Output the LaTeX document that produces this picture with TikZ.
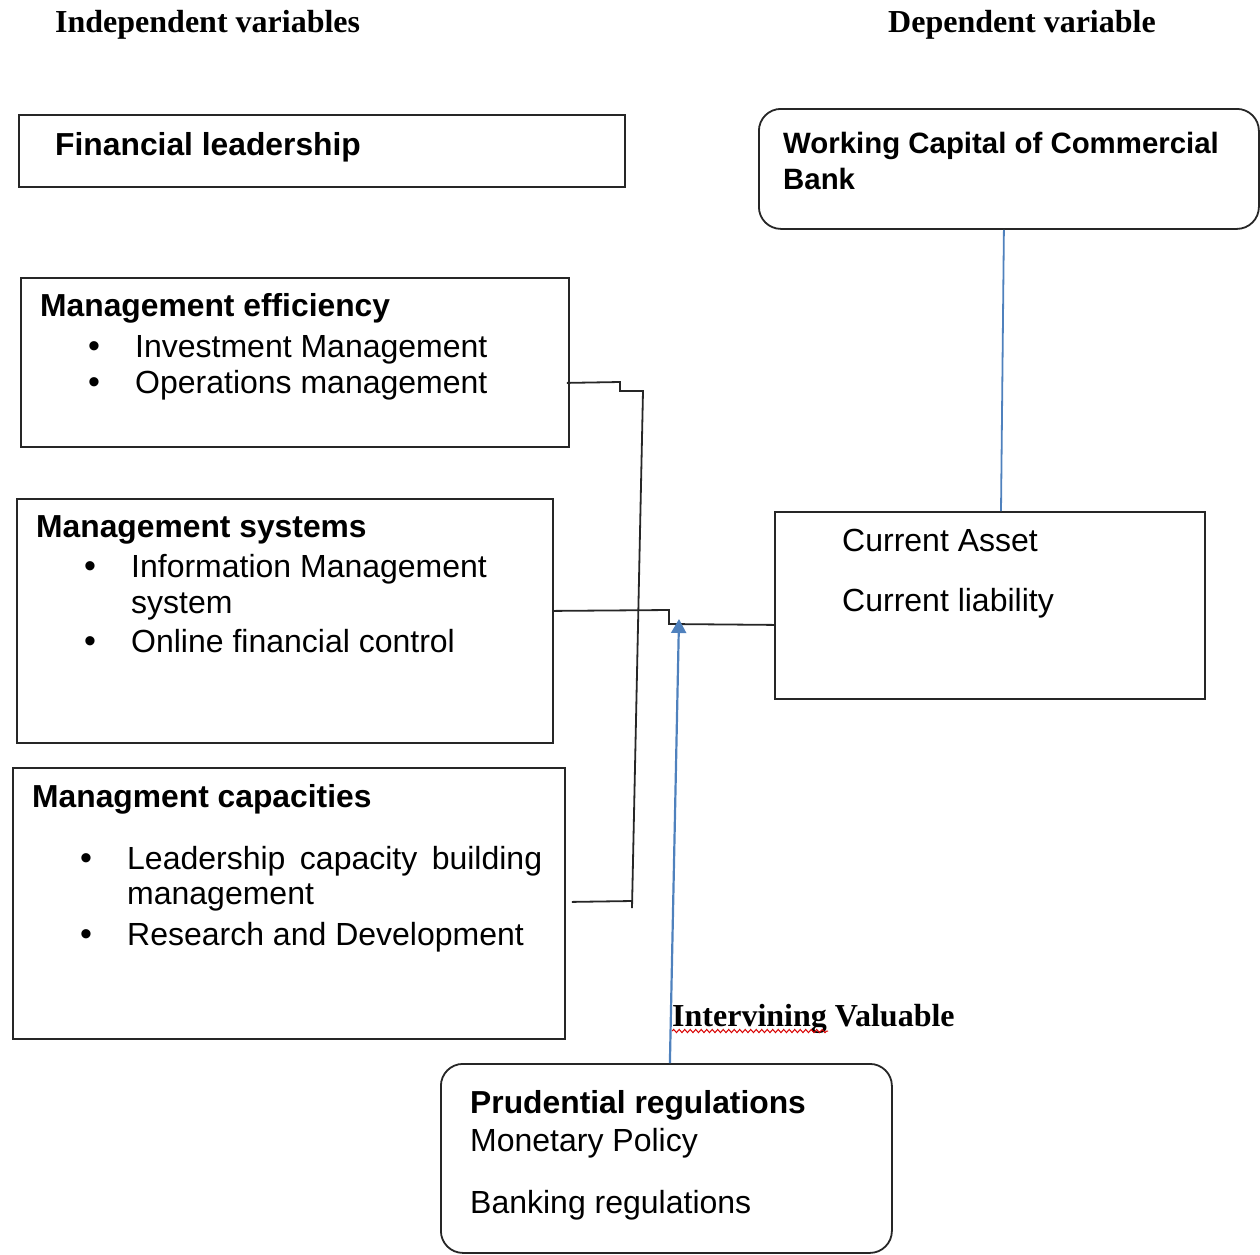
\documentclass[tikz,border=0pt]{standalone}
\usepackage{fontspec}
\setmainfont{Liberation Sans}
\newfontfamily\hdrfont{Liberation Serif}
\usetikzlibrary{arrows.meta,decorations.pathmorphing}
\definecolor{linkblue}{RGB}{79,129,189}
\begin{document}
\begin{tikzpicture}[x=1pt,y=-1pt,
 box/.style={draw=black!85,line width=1.8pt,anchor=north west,inner sep=0pt},
 rbox/.style={box,rounded corners=22pt},
 txt/.style={anchor=base west,inner sep=0pt,font=\fontsize{32}{36}\selectfont},
 ttl/.style={anchor=base west,inner sep=0pt,font=\fontsize{31.8}{36}\selectfont\bfseries},
 hdr/.style={anchor=base west,inner sep=0pt,font=\hdrfont\fontsize{32}{36}\selectfont\bfseries},
 bul/.style={anchor=base west,inner sep=0pt,font=\fontsize{34}{36}\selectfont},
 conn/.style={draw=black!85,line width=1.8pt},
 bluelink/.style={draw=linkblue,line width=2.2pt}
]
\useasboundingbox (0,0) rectangle (1260,1254);

% headers
\node[hdr] (hind) at (55,32) {Independent variables};
\node[hdr] (hdep) at (888,32) {Dependent variable};

% boxes
\node[box,minimum width=606pt,minimum height=72pt] (fin) at (18,114) {};
\node[rbox,minimum width=500pt,minimum height=120pt] (wc) at (758,108) {};
\node[box,minimum width=548pt,minimum height=169pt] (eff) at (20,277) {};
\node[box,minimum width=536pt,minimum height=244pt] (sys) at (16,498) {};
\node[box,minimum width=552pt,minimum height=271pt] (cap) at (12,767) {};
\node[box,minimum width=430pt,minimum height=187pt] (cur) at (774,511) {};
\node[rbox,minimum width=451pt,minimum height=189pt] (pru) at (440,1063) {};

% texts
\node[ttl] (tfin) at (55,155) {Financial leadership};
\node[ttl,font=\fontsize{29.4}{36}\selectfont\bfseries] (twc1) at (783,153) {Working Capital of Commercial};
\node[ttl,font=\fontsize{29.4}{36}\selectfont\bfseries] (twc2) at (783,189) {Bank};

\node[ttl] (teff) at (40,316) {Management efficiency};
\node[bul] (beff1) at (88,357) {•};
\node[txt] (teff1) at (135,357) {Investment Management};
\node[bul] (beff2) at (88,393) {•};
\node[txt] (teff2) at (135,393) {Operations management};

\node[ttl] (tsys) at (36,537) {Management systems};
\node[bul] (bsys1) at (84,577) {•};
\node[txt] (tsys1) at (131,577) {Information Management};
\node[txt] (tsys1b) at (131,613) {system};
\node[bul] (bsys2) at (84,652) {•};
\node[txt] (tsys2) at (131,652) {Online financial control};

\node[ttl] (tcap) at (32,807) {Managment capacities};
\node[bul] (bcap1) at (80,869) {•};
\node[txt] (tcap1) at (127,869) {\makebox[415pt][s]{Leadership capacity building}};
\node[txt] (tcap1b) at (127,904) {management};
\node[bul] (bcap2) at (80,945) {•};
\node[txt] (tcap2) at (127,945) {Research and Development};

\node[txt] (tcur1) at (842,551) {Current Asset};
\node[txt] (tcur2) at (842,611) {Current liability};

\node[hdr] (tint) at (672,1026) {Intervining Valuable};
\draw[red!85!black,line width=1pt,decorate,decoration={snake,amplitude=1.6pt,segment length=5.5pt}]
  ([yshift=-5pt]tint.base west) -- ++(156,0);

\node[ttl] (tpru) at (470,1113) {Prudential regulations};
\node[txt] (tpru1) at (470,1151) {Monetary Policy};
\node[txt] (tpru2) at (470,1213) {Banking regulations};

% connectors
\coordinate (j1) at (643,391);
\coordinate (j2) at (632,908);
\draw[conn] ([xshift=-3pt,yshift=-20.5pt]eff.east) -- (620,382) -- (620,391) -- (j1) -- (j2);
\draw[conn] ([xshift=6pt,yshift=1.5pt]cap.east) -- (632,901);
\draw[conn] ([yshift=10pt]sys.east) -- (669,610) -- (669,624) -- ([yshift=-19.5pt]cur.west);
\coordinate (arrtip) at (679,619);
\draw[bluelink,-{Triangle[width=15pt,length=14pt]}] ([xshift=3.5pt]pru.north) -- (arrtip);
\draw[bluelink,line width=1.8pt] ([xshift=-5pt]wc.south) -- (cur.north -| 1001,505);
\end{tikzpicture}
\end{document}
